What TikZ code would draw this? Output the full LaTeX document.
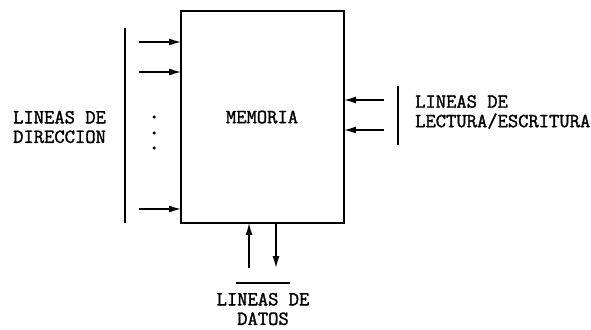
\documentclass[tikz,border=0pt]{standalone}
\usepackage{fontspec}
\newfontfamily\courfont[FakeBold=1.6]{Latin Modern Mono}
\usetikzlibrary{arrows.meta}
\begin{document}
\begin{tikzpicture}[x=1pt,y=-1pt,
  wire/.style={line width=1.4pt,-{Latex[length=12pt,width=7pt]}},
  bar/.style={line width=1.6pt},
  lbl/.style={font=\courfont\fontsize{20}{19.5}\selectfont,align=left,inner sep=0pt},
  dot/.style={circle,fill=black,inner sep=0pt,minimum size=3.5pt}]
\useasboundingbox (0,0) rectangle (591,329);
% memory box
\node[draw,line width=1.4pt,minimum width=163pt,minimum height=212pt,inner sep=0pt] (mem) at (262.5,117) {};
\node[lbl] (memt) at (262,117) {MEMORIA};
% address bar and arrows
\coordinate (abt) at (125,28);
\coordinate (abb) at (125,223);
\draw[bar] (abt) -- (abb);
\coordinate (a1s) at (139,42); \coordinate (a1e) at (181,42);
\coordinate (a2s) at (139,72); \coordinate (a2e) at (181,72);
\coordinate (a3s) at (139,209); \coordinate (a3e) at (181,209);
\draw[wire] (a1s) -- (a1e);
\draw[wire] (a2s) -- (a2e);
\draw[wire] (a3s) -- (a3e);
\node[dot] (d1) at (154,117) {};
\node[dot] (d2) at (154,133) {};
\node[dot] (d3) at (154,148) {};
\node[lbl,anchor=west] (dir) at (13,127) {LINEAS DE\\DIRECCION};
% read/write
\coordinate (r1s) at (384,100); \coordinate (r1e) at (344,100);
\coordinate (r2s) at (384,130); \coordinate (r2e) at (344,130);
\draw[wire] (r1s) -- (r1e);
\draw[wire] (r2s) -- (r2e);
\coordinate (rbt) at (398,86); \coordinate (rbb) at (398,145);
\draw[bar] (rbt) -- (rbb);
\node[lbl,anchor=west] (rw) at (415,112) {LINEAS DE\\LECTURA/ESCRITURA};
% data
\coordinate (u1s) at (249,268); \coordinate (u1e) at (249,223);
\coordinate (u2s) at (276,223); \coordinate (u2e) at (276,268);
\draw[wire] (u1s) -- (u1e);
\draw[wire] (u2s) -- (u2e);
\coordinate (dbl) at (236,283); \coordinate (dbr) at (290,283);
\draw[bar] (dbl) -- (dbr);
\node[lbl,align=center] (dat) at (263,309) {LINEAS DE\\DATOS};
\end{tikzpicture}
\end{document}
